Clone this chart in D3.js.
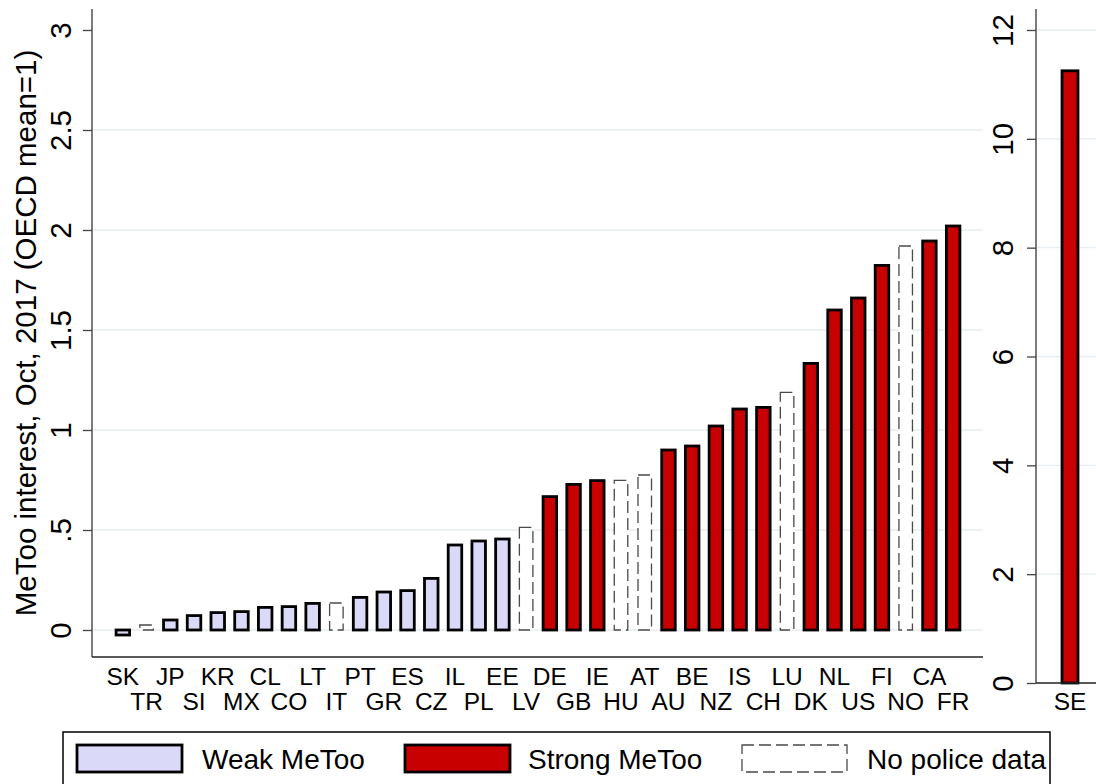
<!DOCTYPE html>
<html>
<head>
<meta charset="utf-8">
<script src="https://cdn.jsdelivr.net/npm/d3@7"></script>
<style>
  body { margin: 0; background: #fff; }
  svg { display: block; font-family: "Liberation Sans", Arial, Helvetica, sans-serif; }
  .grid line { stroke: #e6eef1; stroke-width: 1.3; }
</style>
</head>
<body>
<div id="chart"></div>
<script>
// countries in plotting order (left panel)
var countries = ["SK","TR","JP","SI","KR","MX","CL","CO","LT","IT","PT","GR","ES","CZ","IL","PL","EE","LV",
                 "DE","GB","IE","HU","AT","AU","BE","NZ","IS","CH","LU","DK","NL","US","FI","NO","CA","FR"];
var interest = [-0.025,0.025,0.05,0.072,0.087,0.092,0.113,0.117,0.133,0.135,0.163,0.19,0.197,0.258,0.425,0.445,0.455,0.513,
                0.667,0.728,0.747,0.748,0.775,0.90,0.92,1.02,1.105,1.113,1.188,1.333,1.60,1.66,1.823,1.92,1.945,2.02];
// w = weak MeToo, s = strong MeToo, n = no police data
var group = ["w","n","w","w","w","w","w","w","w","n","w","w","w","w","w","w","w","n",
             "s","s","s","n","n","s","s","s","s","s","n","s","s","s","s","n","s","s"];

// right panel
var outlier = ["SE"];
var outlierValue = [11.25];
var outlierGroup = ["s"];

var leftTicks = [0, 0.5, 1, 1.5, 2, 2.5, 3];
var rightTicks = [0, 2, 4, 6, 8, 10, 12];

var legendLabels = ["Weak MeToo", "Strong MeToo", "No police data"];
var legendGroups = ["w", "s", "n"];

var fills = {w: "#dadaf8", s: "#c80000", n: "#ffffff"};

var W = 1096, H = 784;
var svg = d3.select("#chart").append("svg")
    .attr("width", W)
    .attr("height", H);

// ---------- left panel ----------
var xL = d3.scaleBand().domain(countries).range([111, 965]).paddingInner(0.43).paddingOuter(0.215),
    yL = d3.scaleLinear().domain([0, 3]).range([630, 30]);
var axisLeftX = 92, axisLeftBottom = 657;

svg.append("g")
    .attr("class", "grid")
    .selectAll("line")
    .data(leftTicks.filter(function(d) { return d < 3; }))
    .enter().append("line")
    .attr("x1", axisLeftX).attr("x2", 983)
    .attr("y1", function(d) { return yL(d); })
    .attr("y2", function(d) { return yL(d); });

function fmt(d) {
  if (d === 0) return "0";
  return String(d).replace(/^0\./, ".");
}

function styleBar(sel, g) {
  sel.attr("fill", function(d, i) { return fills[g(d, i)]; })
     .attr("stroke", function(d, i) { return g(d, i) === "n" ? "#4a4a4a" : "#000"; })
     .attr("stroke-width", function(d, i) { return g(d, i) === "n" ? 1.3 : 2.8; })
     .attr("stroke-dasharray", function(d, i) { return g(d, i) === "n" ? "12,5" : null; });
}

svg.append("g")
    .selectAll("rect")
    .data(countries)
    .enter().append("rect")
    .attr("x", function(d) { return xL(d); })
    .attr("width", xL.bandwidth())
    .attr("y", function(d, i) { return yL(Math.max(0, interest[i])); })
    .attr("height", function(d, i) { return Math.abs(yL(interest[i]) - yL(0)); })
    .call(styleBar, function(d, i) { return group[i]; });

var yAxisL = d3.axisLeft(yL).tickValues(leftTicks).tickFormat(fmt).tickSize(9).tickSizeOuter(0);
var gyL = svg.append("g")
    .attr("transform", "translate(" + axisLeftX + ",0)")
    .call(yAxisL);
gyL.select(".domain").remove();
gyL.selectAll(".tick line").attr("stroke", "#444").attr("stroke-width", 1.3);
gyL.selectAll(".tick text")
    .attr("transform", "rotate(-90)")
    .attr("x", 0)
    .attr("y", -21)
    .attr("dy", null)
    .attr("text-anchor", "middle")
    .attr("fill", "#000")
    .style("font-size", "29.5px");

svg.append("line")
    .attr("x1", axisLeftX).attr("x2", axisLeftX)
    .attr("y1", 9).attr("y2", axisLeftBottom)
    .attr("stroke", "#444").attr("stroke-width", 1.4);

var xAxisL = d3.axisBottom(xL).tickSize(0);
var gxL = svg.append("g")
    .attr("transform", "translate(0," + axisLeftBottom + ")")
    .call(xAxisL);
gxL.select(".domain")
    .attr("d", "M" + axisLeftX + ",0H983")
    .attr("stroke", "#222").attr("stroke-width", 1.4);
gxL.selectAll(".tick text")
    .attr("dy", null)
    .attr("y", function(d, i) { return i % 2 ? 53 : 28; })
    .attr("fill", "#000")
    .style("font-size", "24.5px");

svg.append("text")
    .attr("transform", "translate(36,333) rotate(-90)")
    .attr("text-anchor", "middle")
    .style("font-size", "29.5px")
    .text("MeToo interest, Oct, 2017 (OECD mean=1)");

// ---------- right panel ----------
var xR = d3.scaleBand().domain(outlier).range([1040, 1100]).padding(0.58),
    yR = d3.scaleLinear().domain([0, 12]).range([683, 30]);
var axisRightX = 1036;

svg.append("g")
    .attr("class", "grid")
    .selectAll("line")
    .data(rightTicks.filter(function(d) { return d > 0; }))
    .enter().append("line")
    .attr("x1", axisRightX).attr("x2", W)
    .attr("y1", function(d) { return yR(d); })
    .attr("y2", function(d) { return yR(d); });

svg.append("g")
    .selectAll("rect")
    .data(outlier)
    .enter().append("rect")
    .attr("x", function(d) { return xR(d); })
    .attr("width", xR.bandwidth())
    .attr("y", function(d, i) { return yR(outlierValue[i]); })
    .attr("height", function(d, i) { return yR(0) - yR(outlierValue[i]); })
    .call(styleBar, function(d, i) { return outlierGroup[i]; });

var gyR = svg.append("g")
    .attr("transform", "translate(" + axisRightX + ",0)")
    .call(d3.axisLeft(yR).tickValues(rightTicks).tickSize(9).tickSizeOuter(0));
gyR.select(".domain").remove();
gyR.selectAll(".tick line").attr("stroke", "#444").attr("stroke-width", 1.3);
gyR.selectAll(".tick text")
    .attr("transform", "rotate(-90)")
    .attr("x", 0)
    .attr("y", -23)
    .attr("dy", null)
    .attr("text-anchor", "middle")
    .attr("fill", "#000")
    .style("font-size", "29.5px");

svg.append("line")
    .attr("x1", axisRightX).attr("x2", axisRightX)
    .attr("y1", 9).attr("y2", yR(0))
    .attr("stroke", "#444").attr("stroke-width", 1.4);

var gxR = svg.append("g")
    .attr("transform", "translate(0," + yR(0) + ")")
    .call(d3.axisBottom(xR).tickSize(0));
gxR.select(".domain")
    .attr("d", "M" + axisRightX + ",0H" + W)
    .attr("stroke", "#222").attr("stroke-width", 1.4);
gxR.selectAll(".tick text")
    .attr("dy", null)
    .attr("y", 27)
    .attr("fill", "#000")
    .style("font-size", "24.5px");

// ---------- legend ----------
var legend = svg.append("g");
legend.append("rect")
    .attr("x", 63).attr("y", 732)
    .attr("width", 987).attr("height", 70)
    .attr("fill", "#fff")
    .attr("stroke", "#000").attr("stroke-width", 1.5);

var swatchX = [77, 405, 742],
    textX = [202, 528, 867];

var items = legend.selectAll(".item")
    .data(legendLabels)
    .enter().append("g")
    .attr("class", "item");

items.append("rect")
    .attr("x", function(d, i) { return swatchX[i]; })
    .attr("y", 745)
    .attr("width", 105)
    .attr("height", 27)
    .call(styleBar, function(d, i) { return legendGroups[i]; });

items.append("text")
    .attr("x", function(d, i) { return textX[i]; })
    .attr("y", 769)
    .style("font-size", "28px")
    .text(function(d) { return d; });
</script>
</body>
</html>
